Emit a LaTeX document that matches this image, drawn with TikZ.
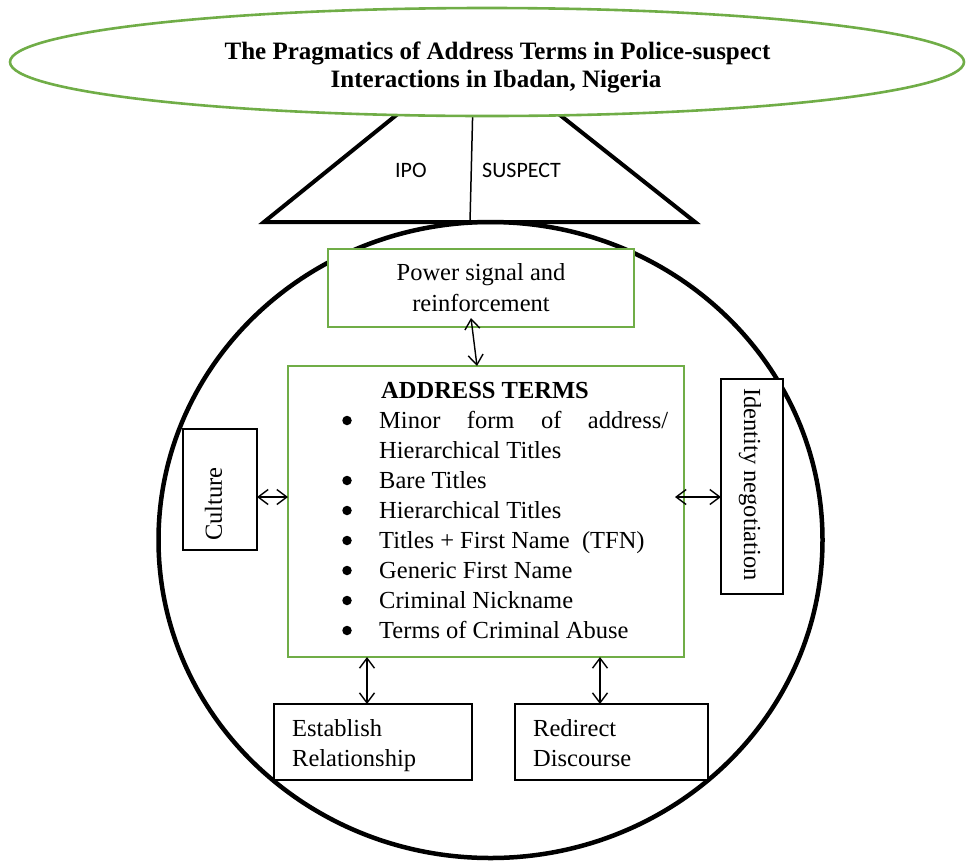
\documentclass[tikz,border=0pt]{standalone}
\usepackage{fontspec}
\setmainfont{Liberation Serif}
\newfontfamily\calib{Carlito}
\usetikzlibrary{shapes.geometric,arrows.meta,calc}
\definecolor{ogreen}{HTML}{70AD47}
\tikzset{
  gbox/.style={draw=ogreen, line width=2.6pt, fill=white, rectangle, inner sep=0pt, outer sep=0pt},
  bbox/.style={draw=black, line width=2.2pt, fill=white, rectangle, inner sep=0pt, outer sep=0pt},
  bboxthick/.style={bbox, line width=2.8pt},
  link/.style={{Straight Barb[length=10pt,width=15pt]}-{Straight Barb[length=10pt,width=15pt]}, line width=1.4pt},
  body/.style={font=\fontsize{24.5}{30}\selectfont, inner sep=0pt},
  titlefont/.style={font=\fontsize{25}{28}\selectfont\bfseries, inner sep=0pt},
  sidefont/.style={font=\calib\fontsize{22}{26}\selectfont, inner sep=0pt},
  dot/.style={circle, fill=black, minimum size=9.5pt, inner sep=0pt},
}
\begin{document}
\begin{tikzpicture}[x=1pt,y=-1pt]
\useasboundingbox (0,0) rectangle (974,860);
% trapezoid
\draw[line width=4pt, line join=miter] (415,100) -- (264,222) -- (695,222) -- (541,100);
\draw[line width=1.5pt] (473,100) -- (470,222);
\node[sidefont, anchor=base west] (ipo) at (395,177) {IPO};
\node[sidefont, anchor=base west] (suspect) at (482,177) {SUSPECT};
% title ellipse
\node[ellipse, draw=ogreen, line width=2.6pt, fill=white, minimum width=954pt, minimum height=108pt, inner sep=0pt] (topic) at (487,62) {};
\node[titlefont, anchor=base] (title1) at (497.5,59) {The Pragmatics of Address Terms in Police-suspect};
\node[titlefont, anchor=base] (title2) at (496,87) {Interactions in Ibadan, Nigeria};
% big circle
\node[ellipse, draw=black, line width=4.5pt, minimum width=664pt, minimum height=636pt, inner sep=0pt] (circ) at (490.5,540) {};
% boxes
\node[gbox, minimum width=306pt, minimum height=78pt] (power) at (481,288) {};
\node[body, anchor=base] (powertxt1) at (481,280) {Power signal and};
\node[body, anchor=base] (powertxt2) at (481,311) {reinforcement};

\node[gbox, minimum width=396pt, minimum height=291pt] (addr) at (486,511.5) {};
\node[body, anchor=base west, font=\fontsize{24.5}{30}\selectfont\bfseries] (addrtitle) at (381,398) {ADDRESS TERMS};
\foreach \yy/\nm in {428/b1,488/b2,518/b3,548/b4,578/b5,608/b6,638/b7}
  \node[dot] (\nm) at (347,\yy-7.5) {};
\node[body, anchor=base west] (it1) at (379,428) {\parbox[t]{289pt}{\fontsize{24.5}{30}\selectfont\hyphenpenalty=10000\exhyphenpenalty=10000\tolerance=10000 Minor form of address/ Hierarchical Titles}};
\node[body, anchor=base west] (it2) at (379,488) {Bare Titles};
\node[body, anchor=base west] (it3) at (379,518) {Hierarchical Titles};
\node[body, anchor=base west] (it4) at (379,548) {Titles + First Name~ (TFN)};
\node[body, anchor=base west] (it5) at (379,578) {Generic First Name};
\node[body, anchor=base west] (it6) at (379,608) {Criminal Nickname};
\node[body, anchor=base west] (it7) at (379,638) {Terms of Criminal Abuse};

\node[bbox, minimum width=74pt, minimum height=121pt] (cult) at (220,489.5) {};
\node[body, rotate=90] (culttxt) at (213.5,504) {Culture};

\node[bbox, minimum width=62pt, minimum height=215pt] (ident) at (752,486.5) {};
\node[body, rotate=-90] (identtxt) at (750,484.5) {Identity negotiation};

\node[bboxthick, minimum width=198pt, minimum height=76pt] (est) at (373,742) {};
\node[body, anchor=base west] (esttxt1) at (292,736) {Establish};
\node[body, anchor=base west] (esttxt2) at (292,766) {Relationship};

\node[bboxthick, minimum width=193pt, minimum height=76pt] (redir) at (611.5,742) {};
\node[body, anchor=base west] (redirtxt1) at (533,736) {Redirect};
\node[body, anchor=base west] (redirtxt2) at (533,766) {Discourse};

% connectors
\coordinate (ymid) at (0,497);
\coordinate (ex) at (367,0);
\coordinate (rx) at (600,0);
\path (addr.east |- ymid) ++(-9,0) coordinate (ia);
\draw[link] ([xshift=-10pt,yshift=9pt]power.south) -- ([xshift=-9pt]addr.north);
\draw[link] (cult.east |- ymid) -- (addr.west |- ymid);
\draw[link] (ia) -- (ident.west |- ymid);
\draw[link] (addr.south -| ex) -- (est.north -| ex);
\draw[link] (addr.south -| rx) -- (redir.north -| rx);
\end{tikzpicture}
\end{document}
